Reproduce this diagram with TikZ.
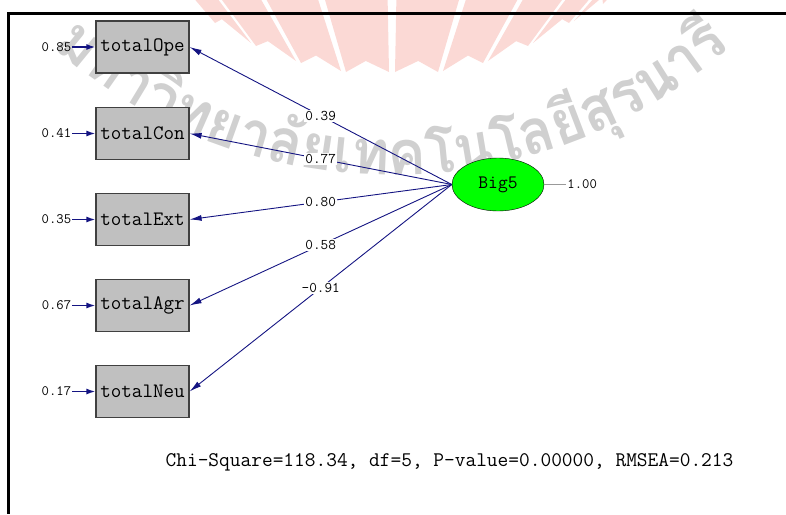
\documentclass[tikz,border=0pt]{standalone}
\usepackage{fontspec}
\newfontfamily\wmfont[Script=Thai]{Loma}
\usetikzlibrary{positioning,shapes.geometric,arrows.meta,calc}

\definecolor{pathblue}{RGB}{20,20,130}
\definecolor{boxgray}{RGB}{192,192,192}
\definecolor{logopink}{RGB}{251,217,213}
\definecolor{wmgray}{RGB}{208,208,208}

\newcommand{\wmstyle}{\wmfont\bfseries\fontsize{62}{64}\selectfont}
\newlength\wmlen
\newlength\wmtot

\tikzset{
	obsvar/.style={draw=black!75, line width=1.2pt, fill=boxgray, minimum width=93pt, minimum height=52pt, inner sep=0pt, font=\ttfamily\fontsize{20.5}{22}\selectfont},
	latvar/.style={ellipse, draw, fill=green, minimum width=92pt, minimum height=53pt, inner sep=0pt, font=\ttfamily\fontsize{19}{21}\selectfont},
	errlabel/.style={inner sep=1pt, text=black, font=\ttfamily\fontsize{14.3}{16}\selectfont},
	coef/.style={fill=white, text=black, inner sep=1.5pt, font=\ttfamily\fontsize{14.8}{16}\selectfont},
	loading/.style={pathblue, line width=0.9pt, -{Latex[length=12pt,width=6pt]}},
	errpath/.style={pathblue, line width=1.5pt, -{Latex[length=9pt,width=6pt]}},
	wmark/.style={wmgray, anchor=base, inner sep=0pt, font=\wmstyle},
}

\begin{document}
% angles of the watermark letters along the arc
\settowidth\wmtot{\wmstyle มหาวิทยาลัยเทคโนโลยีสุรนารี}%
\gdef\wmpos{0}%
\gdef\wmlist{}%
\foreach \ch in {ม,ห,า,วิ,ท,ย,า,ลั,ย,เ,ท,ค,โ,น,โ,ล,ยี,สุ,ร,น,า,รี}{%
	\settowidth\wmlen{\wmstyle\ch}%
	\pgfmathsetmacro\wmang{(\wmpos+0.5*\wmlen-0.5*\wmtot)*0.92/513*180/pi}%
	\pgfmathsetmacro\wmnext{\wmpos+\wmlen}%
	\xdef\wmpos{\wmnext}%
	\ifx\wmlist\empty\xdef\wmlist{\wmang/\ch}\else\xdef\wmlist{\wmlist,\wmang/\ch}\fi
}%
\begin{tikzpicture}[x=1pt,y=-1pt]
	\useasboundingbox (0,0) rectangle (786,514);
	
	% watermark: logo
	\begin{scope}
		\clip (0,0) rectangle (786,514);
		\coordinate (hub) at (392,230);
		\foreach \la/\lb/\ra/\rb in {215/23/251/43, 256/46/296/61, 301/63/341/71, 346/72/389/72, 395/72/438/72, 443/71/483/63, 488/61/528/46, 533/43/569/23, 574/21/603/4}{
			\coordinate (mid) at ($(\la,\lb)!0.5!(\ra,\rb)$);
			\fill[logopink] ($(hub)!1.6!(\la,\lb)$) -- (\la,\lb) -- ($(hub)!1.07!(mid)$) -- (\ra,\rb) -- ($(hub)!1.6!(\ra,\rb)$) -- cycle;
		}
	\end{scope}
	
	% watermark: name along an arc
	\foreach \a/\ch [count=\i] in \wmlist{
		\node[wmark, rotate=\a, xscale=0.92] (wm\i) at ({392+513*sin(\a)},{-338+513*cos(\a)}) {\ch};
	}
	
	% frame
	\draw[line width=2.5pt] (786,13.5) -- (8.5,13.5) -- (8.5,514);
	
	% observed variables
	\node[obsvar] (ope) at (142.5,47) {totalOpe};
	\node[obsvar] (con) at (142.5,133.5) {totalCon};
	\node[obsvar] (ext) at (142.5,219.5) {totalExt};
	\node[obsvar] (agr) at (142.5,305.5) {totalAgr};
	\node[obsvar] (neu) at (142.5,391.5) {totalNeu};
	
	% latent variable
	\node[latvar] (big) at (498,184.5) {Big5};
	\node[errlabel, right=22pt of big] (bigvar) {1.00};
	\draw[black!40, line width=0.8pt] (big) -- (bigvar);
	
	% error variances
	\node[errlabel, left=23pt of ope] (eope) {0.85};
	\node[errlabel, left=23pt of con] (econ) {0.41};
	\node[errlabel, left=23pt of ext] (eext) {0.35};
	\node[errlabel, left=23pt of agr] (eagr) {0.67};
	\node[errlabel, left=23pt of neu] (eneu) {0.17};
	\draw[errpath] (eope) -- (ope);
	\draw[errpath] (econ) -- (con);
	\draw[errpath] (eext) -- (ext);
	\draw[errpath] (eagr) -- (agr);
	\draw[errpath] (eneu) -- (neu);
	
	% loadings
	\draw[loading] (big.west) -- node[coef] {0.39} (ope.east);
	\draw[loading] (big.west) -- node[coef] {0.77} (con.east);
	\draw[loading] (big.west) -- node[coef] {0.80} (ext.east);
	\draw[loading] (big.west) -- node[coef] {0.58} (agr.east);
	\draw[loading] (big.west) -- node[coef] {-0.91} (neu.east);
	
	% fit
	\node[font=\ttfamily\fontsize{20.8}{22}\selectfont] (fit) at (449.5,462) {Chi-Square=118.34, df=5, P-value=0.00000, RMSEA=0.213};
	
\end{tikzpicture}
\end{document}
